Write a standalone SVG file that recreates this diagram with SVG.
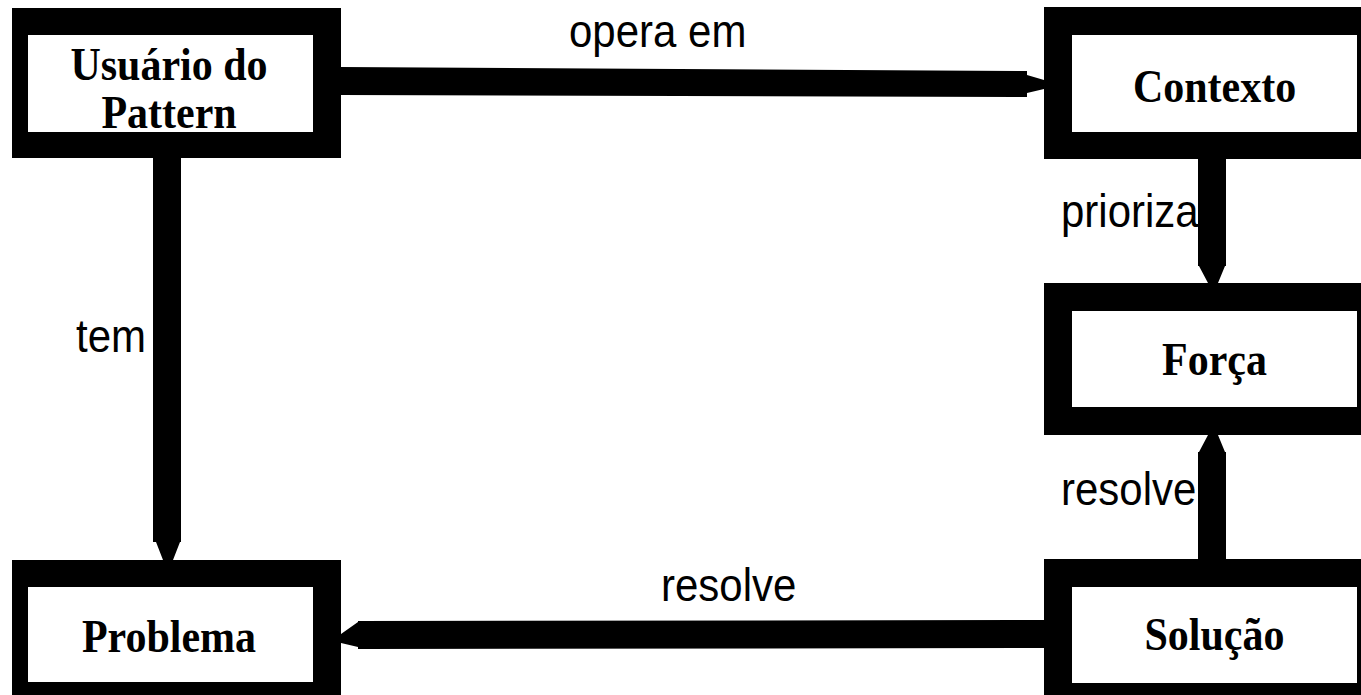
<svg xmlns="http://www.w3.org/2000/svg" width="1361" height="695" viewBox="0 0 1361 695">
  <style>
    .frame { fill: #000; }
    .inner { fill: #fff; }
    .node-label { font-family: "Liberation Serif", "Times New Roman", serif; font-weight: bold; font-size: 42px; fill: #000; text-anchor: middle; }
    .edge-label { font-family: "Liberation Sans", Arial, sans-serif; font-size: 42px; fill: #000; }
    .edge { fill: #000; }
  </style>
  <rect width="1361" height="695" fill="#fff"/>

  <!-- connectors: thick shafts ending in a tapered tip -->
  <g id="connectors">
    <!-- opera em -->
    <polygon class="edge" points="341,67 1027,71 1027,75 1044,80 1044,89 1027,93 1027,97 341,95"/>
    <!-- tem -->
    <polygon class="edge" points="153,158 181,158 181,542 180,542 173,560 163,560 156,542 153,542"/>
    <!-- prioriza -->
    <polygon class="edge" points="1198,159 1226,159 1226,266 1225,266 1218,283 1208,283 1199,266 1198,266"/>
    <!-- resolve (Solução to Força) -->
    <polygon class="edge" points="1198,559 1226,559 1226,452 1225,452 1218,435 1208,435 1199,452 1198,452"/>
    <!-- resolve (Solução to Problema) -->
    <polygon class="edge" points="1044,620 1044,648 358,649 358,647 341,643 341,634 358,622 358,621"/>

    <text class="edge-label" transform="translate(569,47) scale(1,1.12)">opera em</text>
    <text class="edge-label" transform="translate(76,352) scale(1,1.12)">tem</text>
    <text class="edge-label" transform="translate(1061,227) scale(1,1.12)">prioriza</text>
    <text class="edge-label" transform="translate(1061,505) scale(1,1.12)">resolve</text>
    <text class="edge-label" transform="translate(661,601) scale(1,1.12)">resolve</text>
  </g>

  <g id="node-usuario">
    <rect class="frame" x="12" y="8" width="329" height="150"/>
    <rect class="inner" x="28" y="35" width="285" height="97"/>
    <text class="node-label" transform="translate(169,80) scale(1,1.12)">Usuário do</text>
    <text class="node-label" transform="translate(169,128) scale(1,1.12)">Pattern</text>
  </g>

  <g id="node-contexto">
    <rect class="frame" x="1044" y="7" width="341" height="152"/>
    <rect class="inner" x="1072" y="35" width="285" height="97"/>
    <text class="node-label" transform="translate(1214.5,102) scale(1,1.12)">Contexto</text>
  </g>

  <g id="node-forca">
    <rect class="frame" x="1044" y="283" width="341" height="152"/>
    <rect class="inner" x="1072" y="311" width="285" height="96"/>
    <text class="node-label" transform="translate(1214.5,375) scale(1,1.12)">Força</text>
  </g>

  <g id="node-problema">
    <rect class="frame" x="12" y="560" width="329" height="140"/>
    <rect class="inner" x="28" y="587" width="285" height="95"/>
    <text class="node-label" transform="translate(169,652) scale(1,1.12)">Problema</text>
  </g>

  <g id="node-solucao">
    <rect class="frame" x="1044" y="559" width="341" height="141"/>
    <rect class="inner" x="1072" y="587" width="285" height="96"/>
    <text class="node-label" transform="translate(1214.5,650) scale(1,1.12)">Solução</text>
  </g>
</svg>
